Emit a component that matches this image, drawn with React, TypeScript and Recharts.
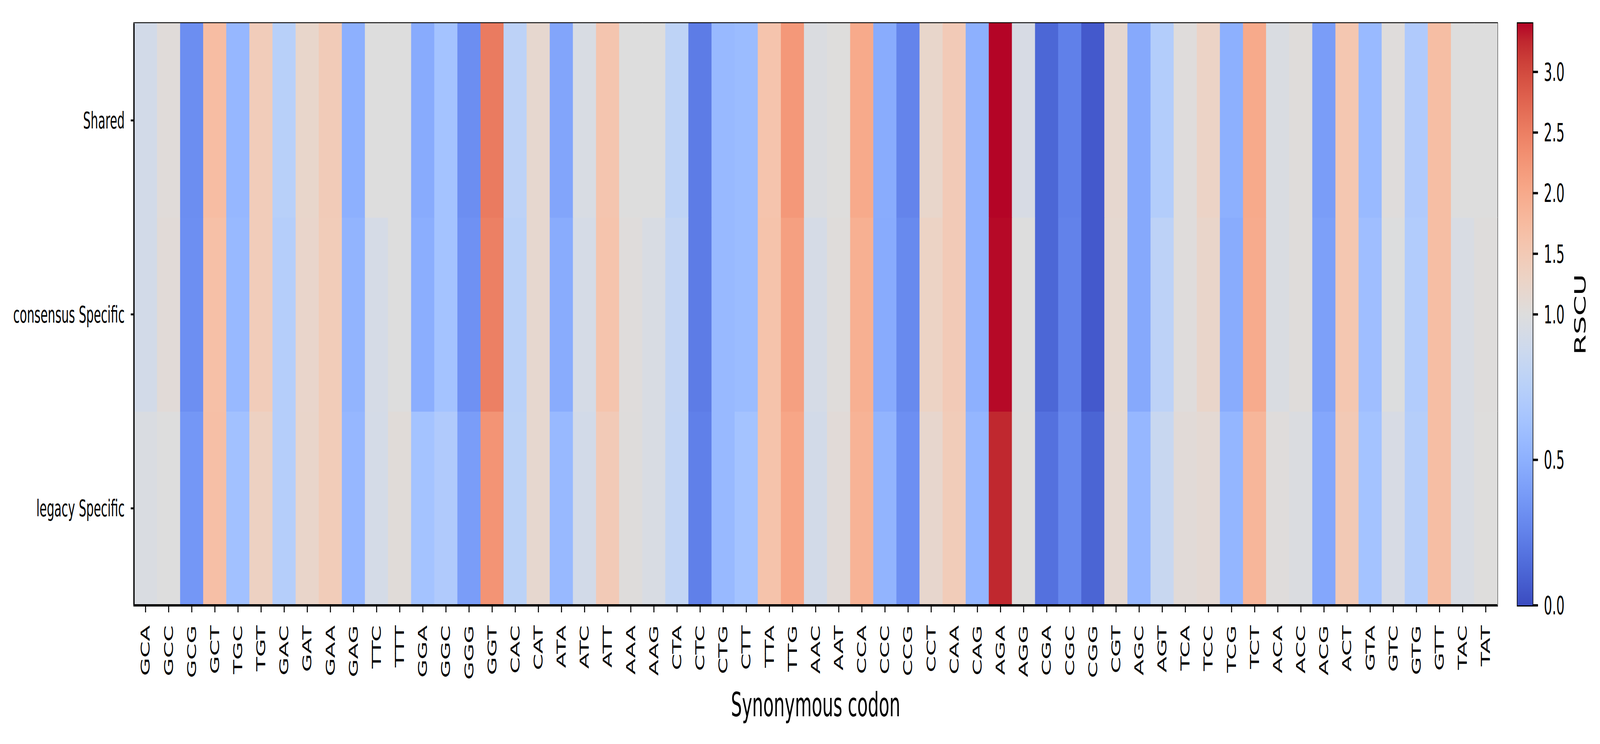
import React from "react";
import { BarChart, Bar, Cell, XAxis, YAxis, ReferenceArea } from "recharts";

// codons along the x axis, left to right
const codons = [
  "GCA", "GCC", "GCG", "GCT", "TGC", "TGT", "GAC", "GAT", "GAA", "GAG",
  "TTC", "TTT", "GGA", "GGC", "GGG", "GGT", "CAC", "CAT", "ATA", "ATC",
  "ATT", "AAA", "AAG", "CTA", "CTC", "CTG", "CTT", "TTA", "TTG", "AAC",
  "AAT", "CCA", "CCC", "CCG", "CCT", "CAA", "CAG", "AGA", "AGG", "CGA",
  "CGC", "CGG", "CGT", "AGC", "AGT", "TCA", "TCC", "TCG", "TCT", "ACA",
  "ACC", "ACG", "ACT", "GTA", "GTC", "GTG", "GTT", "TAC", "TAT",
];

// RSCU per row
const shared = [
  0.92, 1.05, 0.31, 1.72, 0.55, 1.44, 0.75, 1.22, 1.46, 0.50,
  1.00, 1.00, 0.47, 0.63, 0.31, 2.54, 0.78, 1.17, 0.44, 0.96,
  1.58, 1.00, 1.00, 0.79, 0.22, 0.56, 0.58, 1.60, 2.22, 0.98,
  1.01, 2.00, 0.48, 0.26, 1.22, 1.48, 0.50, 3.40, 0.95, 0.12,
  0.24, 0.06, 1.18, 0.46, 0.72, 1.03, 1.29, 0.50, 2.00, 0.97,
  1.04, 0.39, 1.55, 0.57, 1.03, 0.70, 1.70, 1.00, 1.00,
];
const consensus = [
  0.92, 1.08, 0.32, 1.67, 0.56, 1.44, 0.73, 1.23, 1.45, 0.53,
  0.94, 1.00, 0.49, 0.63, 0.33, 2.49, 0.76, 1.17, 0.48, 0.94,
  1.60, 1.03, 0.96, 0.82, 0.22, 0.56, 0.58, 1.62, 2.13, 0.94,
  1.04, 1.92, 0.47, 0.29, 1.30, 1.48, 0.50, 3.38, 1.00, 0.12,
  0.25, 0.06, 1.16, 0.46, 0.78, 1.03, 1.24, 0.48, 1.98, 0.97,
  1.04, 0.41, 1.55, 0.60, 0.99, 0.71, 1.70, 0.96, 1.02,
];
const legacy = [
  0.97, 1.00, 0.36, 1.68, 0.62, 1.34, 0.73, 1.24, 1.45, 0.55,
  0.93, 1.06, 0.63, 0.70, 0.39, 2.27, 0.77, 1.17, 0.56, 0.92,
  1.48, 1.02, 0.96, 0.81, 0.24, 0.56, 0.63, 1.62, 2.05, 0.92,
  1.08, 1.87, 0.53, 0.32, 1.20, 1.45, 0.54, 3.25, 1.01, 0.17,
  0.28, 0.11, 1.14, 0.55, 0.85, 1.08, 1.13, 0.54, 1.82, 1.03,
  0.98, 0.45, 1.50, 0.63, 0.95, 0.73, 1.70, 0.96, 1.01,
];

const rowLabels = ["legacy Specific", "consensus Specific", "Shared"];
const cbarTicks = [0, 0.5, 1, 1.5, 2, 2.5, 3];

// matplotlib coolwarm, 33 samples
const COOLWARM = [
  [59, 76, 192], [68, 90, 204], [77, 104, 215], [87, 117, 225], [98, 130, 234],
  [108, 142, 241], [119, 154, 247], [130, 165, 251], [141, 176, 254], [152, 185, 255],
  [163, 194, 255], [174, 201, 253], [184, 208, 249], [194, 213, 244], [204, 217, 238],
  [213, 219, 230], [221, 221, 221], [229, 216, 209], [236, 211, 197], [241, 204, 185],
  [245, 196, 173], [247, 187, 160], [247, 177, 148], [247, 166, 135], [244, 154, 123],
  [241, 141, 111], [236, 127, 99], [229, 112, 88], [222, 96, 77], [213, 80, 66],
  [203, 62, 56], [192, 40, 47], [180, 4, 38],
];

const VMAX = Math.max(...shared, ...consensus, ...legacy);

// two-slope norm centred on 1
function norm(v: number) {
  return v < 1 ? v / 2 : 0.5 + (0.5 * (v - 1)) / (VMAX - 1);
}

function coolwarm(t: number) {
  const p = Math.min(Math.max(t, 0), 1) * (COOLWARM.length - 1);
  const i = Math.min(Math.floor(p), COOLWARM.length - 2);
  const f = p - i;
  const c = COOLWARM[i].map((a, k) => Math.round(a + (COOLWARM[i + 1][k] - a) * f));
  return `rgb(${c[0]},${c[1]},${c[2]})`;
}

const colorFor = (v: number) => coolwarm(norm(v));

const table = codons.map((codon, i) => ({
  codon,
  shared: shared[i],
  consensus: consensus[i],
  legacy: legacy[i],
}));

const one = () => 1;
const FONT = "'DejaVu Sans', sans-serif";
const FRAME = { stroke: "#000", strokeWidth: 6 };
const W = 7868;
const H = 1905;

const CodonTick = ({ x, y, payload }: any) => (
  <text
    x={x}
    y={y}
    transform={`rotate(-90, ${x}, ${y})`}
    textAnchor="end"
    dominantBaseline="central"
    fontSize={60}
    fill="#000"
    fontFamily={FONT}
  >
    {payload.value}
  </text>
);

export default function App() {
  // the window can come out smaller than the design size: stretch the figure to fill it
  const sx = Math.min(window.innerWidth / W, 1);
  const sy = Math.min(window.innerHeight / H, 1);

  return (
    <>
      <style>{"body{margin:0;overflow:hidden;background:#fff}"}</style>
      <div
        style={{
          position: "absolute", left: 0, top: 0, width: W, height: H,
          background: "#fff", fontFamily: FONT,
          transform: `scale(${sx}, ${sy})`, transformOrigin: "0 0",
        }}
      >
        {/* heatmap */}
        <div style={{ position: "absolute", left: 0, top: 0 }}>
          <BarChart
            width={W}
            height={H}
            data={table}
            margin={{ top: 60, right: 505, bottom: 0, left: 0 }}
            barCategoryGap={0}
            barGap={0}
          >
            {(["legacy", "consensus", "shared"] as const).map((key) => (
              <Bar key={key} dataKey={one} stackId="rows" isAnimationActive={false}>
                {table.map((d, i) => (
                  <Cell key={i} fill={colorFor(d[key])} stroke={colorFor(d[key])} strokeWidth={1.5} />
                ))}
              </Bar>
            ))}
            <XAxis
              dataKey="codon"
              interval={0}
              height={355}
              tick={<CodonTick />}
              tickSize={18}
              tickMargin={33}
              tickLine={{ stroke: "#000", strokeWidth: 5 }}
              axisLine={FRAME}
              label={{
                value: "Synonymous codon", position: "insideBottom", offset: 71,
                fontSize: 85, fill: "#000", fontFamily: FONT,
              }}
            />
            <YAxis
              type="number"
              domain={[0, 3]}
              ticks={[0.5, 1.5, 2.5]}
              interval={0}
              width={659}
              tickFormatter={(v: number) => rowLabels[Math.floor(v)]}
              tick={{ fontSize: 58, fill: "#000", fontFamily: FONT }}
              tickSize={16}
              tickMargin={30}
              tickLine={{ stroke: "#000", strokeWidth: 5 }}
              axisLine={FRAME}
            />
            <ReferenceArea
              x1={codons[0]}
              x2={codons[codons.length - 1]}
              y1={0}
              y2={3}
              fill="none"
              fillOpacity={0}
              stroke="#000"
              strokeWidth={6}
              strokeOpacity={1}
              ifOverflow="visible"
            />
          </BarChart>
        </div>

        {/* colour bar */}
        <div style={{ position: "absolute", left: 7300, top: 0 }}>
          <BarChart
            width={568}
            height={H}
            data={[{ name: "cbar" }]}
            margin={{ top: 60, right: 0, bottom: 355, left: 162 }}
            barCategoryGap={0}
          >
            <defs>
              <linearGradient id="cbGrad" x1="0" y1="1" x2="0" y2="0">
                {COOLWARM.map((c, i) => (
                  <stop key={i} offset={`${(i / (COOLWARM.length - 1)) * 100}%`} stopColor={`rgb(${c[0]},${c[1]},${c[2]})`} />
                ))}
              </linearGradient>
            </defs>
            <Bar dataKey={one} fill="url(#cbGrad)" isAnimationActive={false} />
            <XAxis dataKey="name" height={0} tick={false} tickLine={false} axisLine={false} />
            <YAxis
              orientation="right"
              type="number"
              domain={[0, 1]}
              ticks={cbarTicks.map(norm)}
              interval={0}
              width={331}
              tickFormatter={(t: number) => {
                const v = cbarTicks.find((c) => Math.abs(norm(c) - t) < 1e-6);
                return v === undefined ? "" : v.toFixed(1);
              }}
              tick={{ fontSize: 64, fill: "#000", fontFamily: FONT }}
              tickSize={26}
              tickMargin={29}
              tickLine={{ stroke: "#000", strokeWidth: 6 }}
              axisLine={false}
              label={{
                content: ({ viewBox }: any) => {
                  const cx = viewBox.x + 234;
                  const cy = viewBox.y + viewBox.height / 2;
                  return (
                    <text
                      x={cx}
                      y={cy}
                      transform={`rotate(-90, ${cx}, ${cy})`}
                      textAnchor="middle"
                      dominantBaseline="central"
                      fontSize={75}
                      fill="#000"
                      fontFamily={FONT}
                    >
                      RSCU
                    </text>
                  );
                },
              }}
            />
            <ReferenceArea
              x1="cbar"
              x2="cbar"
              y1={0}
              y2={1}
              fill="none"
              fillOpacity={0}
              stroke="#000"
              strokeWidth={6}
              strokeOpacity={1}
              ifOverflow="visible"
            />
          </BarChart>
        </div>
      </div>
    </>
  );
}
